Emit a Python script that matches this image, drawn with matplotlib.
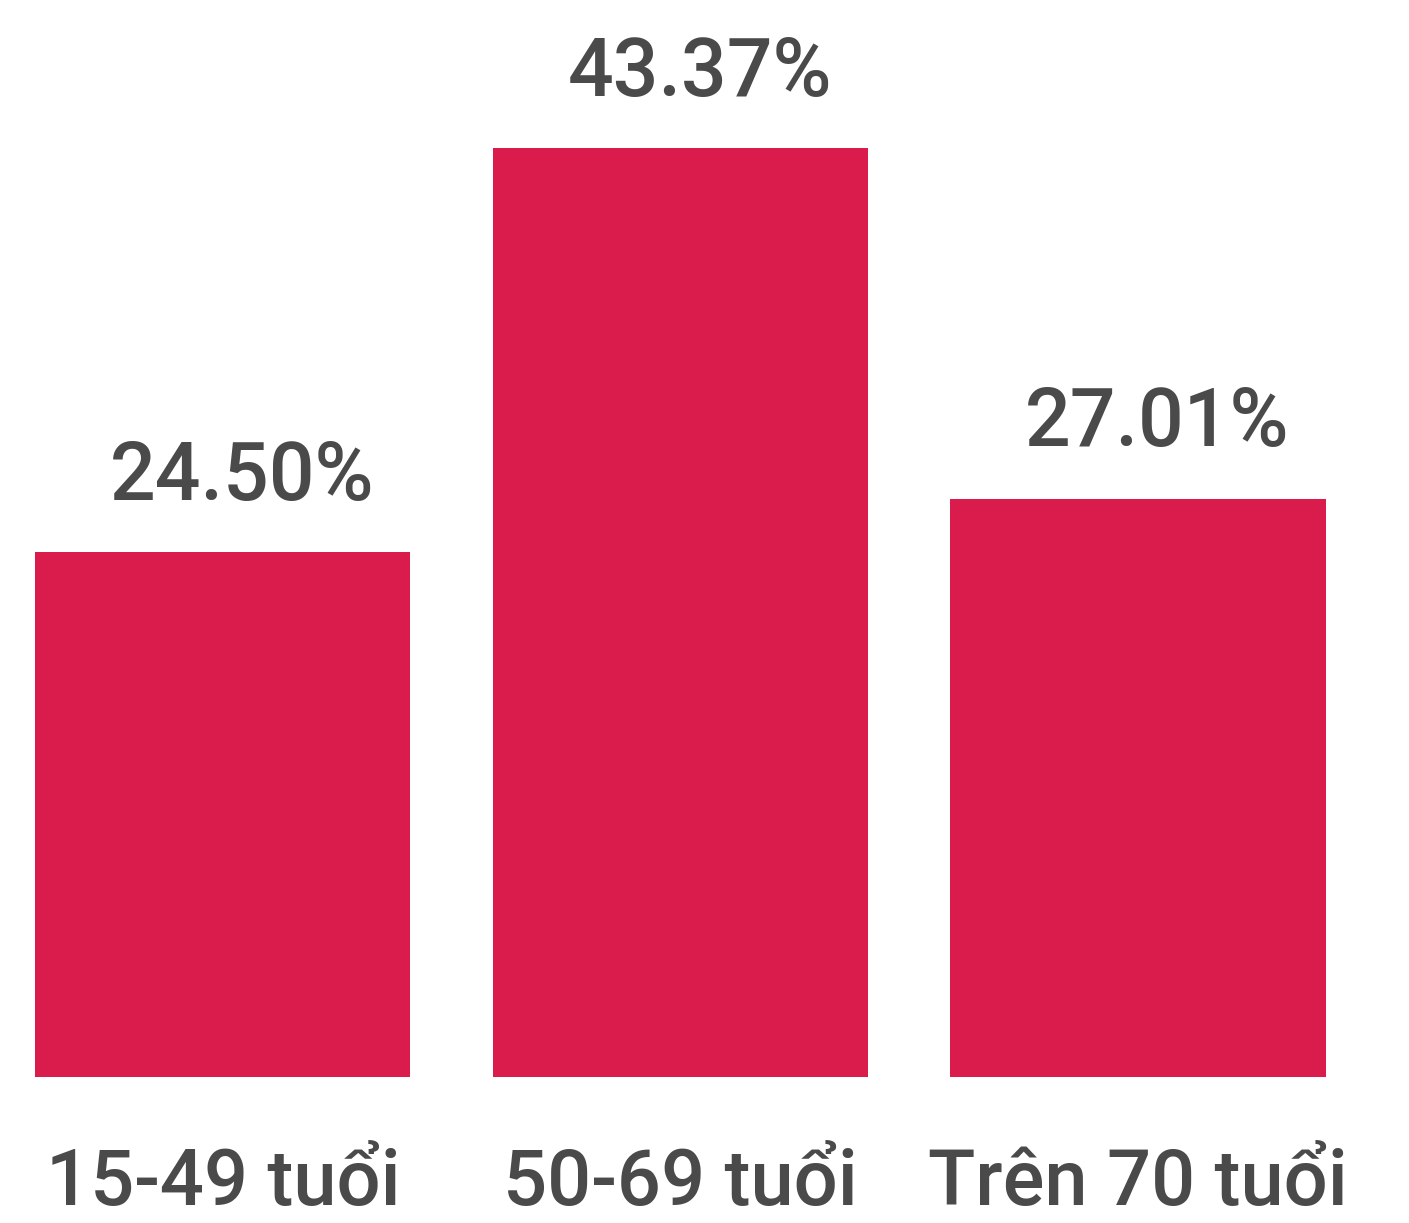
import matplotlib
matplotlib.use("Agg")
import matplotlib.pyplot as plt

categories = ["15-49 tuổi", "50-69 tuổi", "Trên 70 tuổi"]
values = [24.50, 43.37, 27.01]

BAR_COLOR = "#D91C4B"
TEXT_COLOR = "#4A4A4A"

plt.rcParams["font.family"] = ["Roboto", "DejaVu Sans"]

fig = plt.figure(figsize=(14.09, 12.23), dpi=100)
ax = fig.add_axes([0, 0.1194, 1, 0.8806])

x = range(len(categories))
bars = ax.bar(x, values, width=0.82, color=BAR_COLOR)

ax.set_xlim(-0.487, 2.592)
ax.set_ylim(0, 50.3)

# value labels sit a little right of bar centre, as in the source graphic
for bar, val in zip(bars, values):
    ax.annotate(
        f"{val:.2f}%",
        (bar.get_x() + bar.get_width() / 2.0, bar.get_height()),
        xytext=(14, 38),
        textcoords="offset points",
        ha="center",
        va="baseline",
        fontsize=58,
        fontweight="medium",
        color=TEXT_COLOR,
    )

ax.set_xticks(list(x))
ax.set_xticklabels(categories, fontsize=56, fontweight="medium", color=TEXT_COLOR)
ax.tick_params(axis="x", length=0, pad=50)
ax.set_yticks([])
for spine in ax.spines.values():
    spine.set_visible(False)

fig.savefig("out.png", dpi=100)
